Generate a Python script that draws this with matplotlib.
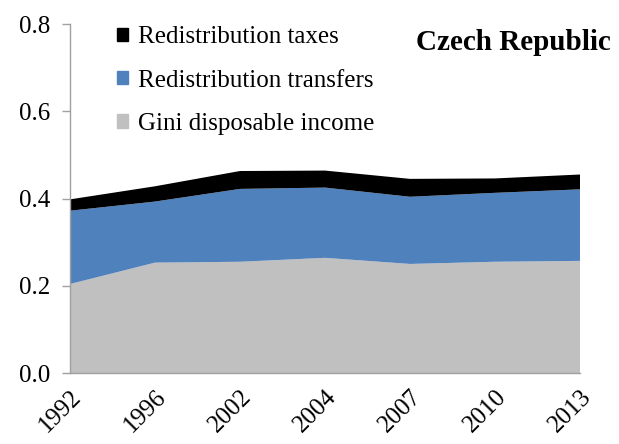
import matplotlib
matplotlib.use("Agg")
import matplotlib.pyplot as plt
from matplotlib.patches import Patch
import numpy as np

years = ["1992", "1996", "2002", "2004", "2007", "2010", "2013"]
gini_disposable = [0.204, 0.253, 0.255, 0.264, 0.250, 0.255, 0.257]
redistribution_transfers = [0.168, 0.140, 0.167, 0.161, 0.154, 0.158, 0.164]
redistribution_taxes = [0.026, 0.035, 0.041, 0.039, 0.041, 0.033, 0.034]
y_ticks = [0.0, 0.2, 0.4, 0.6, 0.8]

plt.rcParams['font.family'] = ['Liberation Serif', 'DejaVu Serif']

fig = plt.figure(figsize=(6.19, 4.44), dpi=100)
ax = fig.add_axes([70/619, 1 - 373/444, 510/619, 349/444])

x = np.arange(len(years))
ax.stackplot(x, gini_disposable, redistribution_transfers, redistribution_taxes,
             colors=["#C0C0C0", "#4F81BD", "#000000"], linewidth=0)

ax.set_xlim(0, len(years) - 1)
ax.set_ylim(0, 0.8)
ax.set_yticks(y_ticks)
ax.set_yticklabels([f"{v:.1f}" for v in y_ticks], fontsize=18)
ax.set_xticks(x)
ax.set_xticklabels(years, rotation=45, ha="right", rotation_mode="anchor", fontsize=18)
ax.tick_params(axis="x", length=0, pad=9)
ax.tick_params(axis="y", length=6, color="#A0A0A0", width=1, pad=8)
for s in ["top", "right"]:
    ax.spines[s].set_visible(False)
for s in ["left", "bottom"]:
    ax.spines[s].set_color("#A0A0A0")
    ax.spines[s].set_linewidth(1)

handles = [Patch(color="#000000"), Patch(color="#4F81BD"), Patch(color="#C0C0C0")]
labels = ["Redistribution taxes", "Redistribution transfers", "Gini disposable income"]
ax.legend(handles, labels, loc="upper left", bbox_to_anchor=(0.072, 1.022), frameon=False,
          fontsize=18, handlelength=0.45, handleheight=0.45, handletextpad=0.4,
          labelspacing=0.85, borderaxespad=0)

fig.text(611/619, 1 - 42/444, "Czech Republic", fontsize=21, fontweight="bold",
         ha="right", va="center")

fig.savefig("out.png", dpi=100)
